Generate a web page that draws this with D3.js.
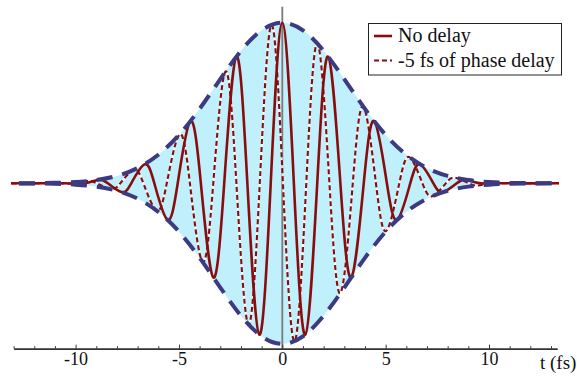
<!DOCTYPE html>
<html>
<head>
<meta charset="utf-8">
<style>
  body { margin: 0; background: #fff; }
  text { font-family: "Liberation Serif", serif; }
</style>
</head>
<body>
<script src="https://d3js.org/d3.v7.min.js"></script>
<script>
// pulse envelope (upper half; the lower half is its mirror)
const envT = [-14, -13, -12, -11, -10, -9, -8, -7, -6, -5, -4, -3, -2, -1, 0,
  1, 2, 3, 4, 5, 6, 7, 8, 9, 10, 11, 12, 13, 14];
const envY = [0.0001, 0.0003, 0.001, 0.003, 0.0082, 0.0205, 0.0463, 0.0952, 0.178, 0.301, 0.464, 0.649, 0.825, 0.953, 1,
  0.953, 0.825, 0.649, 0.464, 0.301, 0.178, 0.0952, 0.0463, 0.0205, 0.0082, 0.003, 0.001, 0.0003, 0.0001];

// carrier, no delay: extrema and zero crossings
const noDelayT = [-13.5, -12.5, -11.5, -10.5, -9.56, -8.89, -8.44, -7.78, -7.31, -6.67, -6.19, -5.56, -5.06,
  -4.45, -3.94, -3.34, -2.81, -2.22, -1.69, -1.11, -0.56, 0, 0.56, 1.11, 1.69, 2.22, 2.81, 3.34, 3.94,
  4.45, 5.06, 5.56, 6.19, 6.67, 7.31, 7.78, 8.44, 8.89, 9.56, 10.5, 11.5, 12.5, 13.5];
const noDelayY = [0, 0, 0, 0, 0, 0.0225, 0, -0.0547, 0, 0.118, 0, -0.227, 0,
  0.387, 0, -0.586, 0, 0.789, 0, -0.943, 0, 1, 0, -0.943, 0, 0.789, 0, -0.586, 0,
  0.387, 0, -0.227, 0, 0.118, 0, -0.0547, 0, 0.0225, 0, 0, 0, 0, 0];

// carrier, -5 fs of phase delay
const delayT = [-13.5, -12.3, -11.2, -10.09, -9.42, -8.97, -8.30, -7.84, -7.19, -6.72, -6.08, -5.59, -4.97,
  -4.47, -3.86, -3.34, -2.75, -2.22, -1.64, -1.09, -0.52, 0.03, 0.59, 1.16, 1.70, 2.28, 2.81, 3.41, 3.92,
  4.53, 5.03, 5.66, 6.15, 6.78, 7.26, 7.91, 8.37, 9.03, 9.48, 10.16, 11.2, 12.3, 13.5];
const delayY = [0, 0, 0, 0, 0.014, 0, -0.0365, 0, 0.0834, 0, -0.1695, 0, 0.305,
  0, -0.490, 0, 0.696, 0, -0.880, 0, 0.987, 0, -0.984, 0, 0.871, 0, -0.684, 0, 0.478,
  0, -0.296, 0, 0.163, 0, -0.0798, 0, 0.0347, 0, -0.0134, 0, 0, 0, 0];

const majorTicks = [-10, -5, 0, 5, 10];
const minorTicks = [-13, -12, -11, -9, -8, -7, -6, -4, -3, -2, -1, 1, 2, 3, 4, 6, 7, 8, 9, 11, 12, 13];
const legendLabels = ['No delay', '-5 fs of phase delay'];
const xLabel = 't (fs)';

const WIDTH = 577;
const HEIGHT = 376;
const RED = '#8a0d0d';
const NAVY = '#3b3a82';

const svg = d3.select('body').append('svg').attr('width', WIDTH).attr('height', HEIGHT);

const x = d3.scaleLinear().domain([-13, 13.3]).range([13.6, 557.2]);
const y = d3.scaleLinear().domain([-1.03, 1.1]).range([348.7, 6.7]);

svg.append('defs').append('clipPath').attr('id', 'plot')
  .append('rect').attr('x', 11).attr('y', 0).attr('width', 548).attr('height', HEIGHT);

const plot = svg.append('g').attr('clip-path', 'url(#plot)');

// filled region between the two envelopes
const area = d3.area()
  .x((d, i) => x(envT[i]))
  .y0(d => y(-d))
  .y1(d => y(d))
  .curve(d3.curveNatural);

plot.append('path')
  .datum(envY)
  .attr('d', area)
  .attr('fill', '#bff0fc');

// vertical axis
plot.append('line')
  .attr('x1', x(0)).attr('x2', x(0))
  .attr('y1', 6.7).attr('y2', y.range()[0])
  .attr('stroke', '#7a7a7a')
  .attr('stroke-width', 1.8);

const carrier = (ts) => d3.line()
  .x((d, i) => x(ts[i]))
  .y(d => y(d))
  .curve(d3.curveNatural);

// delayed carrier: white under-stroke so the gaps read light
plot.append('path')
  .datum(delayY)
  .attr('d', carrier(delayT))
  .attr('fill', 'none')
  .attr('stroke', '#fff')
  .attr('stroke-opacity', 0.75)
  .attr('stroke-width', 2);

plot.append('path')
  .datum(delayY)
  .attr('d', carrier(delayT))
  .attr('fill', 'none')
  .attr('stroke', RED)
  .attr('stroke-width', 2.1)
  .attr('stroke-dasharray', '5,3');

plot.append('path')
  .datum(noDelayY)
  .attr('d', carrier(noDelayT))
  .attr('fill', 'none')
  .attr('stroke', RED)
  .attr('stroke-width', 2.6);

// envelopes
const envLine = (sign) => d3.line()
  .x((d, i) => x(envT[i]))
  .y(d => y(sign * d))
  .curve(d3.curveNatural);

[1, -1].forEach(s => {
  plot.append('path')
    .datum(envY)
    .attr('d', envLine(s))
    .attr('fill', 'none')
    .attr('stroke', NAVY)
    .attr('stroke-width', 4)
    .attr('stroke-dasharray', '16,10');
});

// horizontal axis
const axisY = y.range()[0];

const minorAxis = svg.append('g')
  .attr('transform', `translate(0,${axisY})`)
  .call(d3.axisBottom(x).tickValues(minorTicks).tickSize(-2.5).tickSizeOuter(0).tickFormat(''));
minorAxis.select('.domain').remove();
minorAxis.selectAll('line').attr('stroke', '#333');

const majorAxis = svg.append('g')
  .attr('transform', `translate(0,${axisY})`)
  .call(d3.axisBottom(x).tickValues(majorTicks).tickSize(-4).tickSizeOuter(0).tickPadding(4)
    .tickFormat(d => String(d)));
majorAxis.attr('font-family', null).attr('font-size', null);
majorAxis.select('.domain').attr('stroke', '#333').attr('stroke-width', 1.8);
majorAxis.selectAll('line').attr('stroke', '#333');
majorAxis.selectAll('text').attr('fill', '#111').attr('font-size', 18);

svg.append('text')
  .attr('x', 540)
  .attr('y', 369)
  .attr('font-size', 19)
  .attr('fill', '#111')
  .text(xLabel);

// legend
const legend = svg.append('g').attr('transform', 'translate(368.5,23.5)');
legend.append('rect')
  .attr('width', 193).attr('height', 51.5)
  .attr('fill', '#fff')
  .attr('stroke', '#222')
  .attr('stroke-width', 1);

legendLabels.forEach((label, i) => {
  const cy = 12.5 + i * 24.5;
  legend.append('line')
    .attr('x1', 5.5).attr('x2', 23.5)
    .attr('y1', cy).attr('y2', cy)
    .attr('stroke', RED)
    .attr('stroke-width', i === 0 ? 2.6 : 2)
    .attr('stroke-dasharray', i === 0 ? null : '5,3');
  legend.append('text')
    .attr('x', 29.5)
    .attr('y', cy + 6)
    .attr('font-size', 20)
    .attr('fill', '#111')
    .text(label);
});
</script>
</body>
</html>
